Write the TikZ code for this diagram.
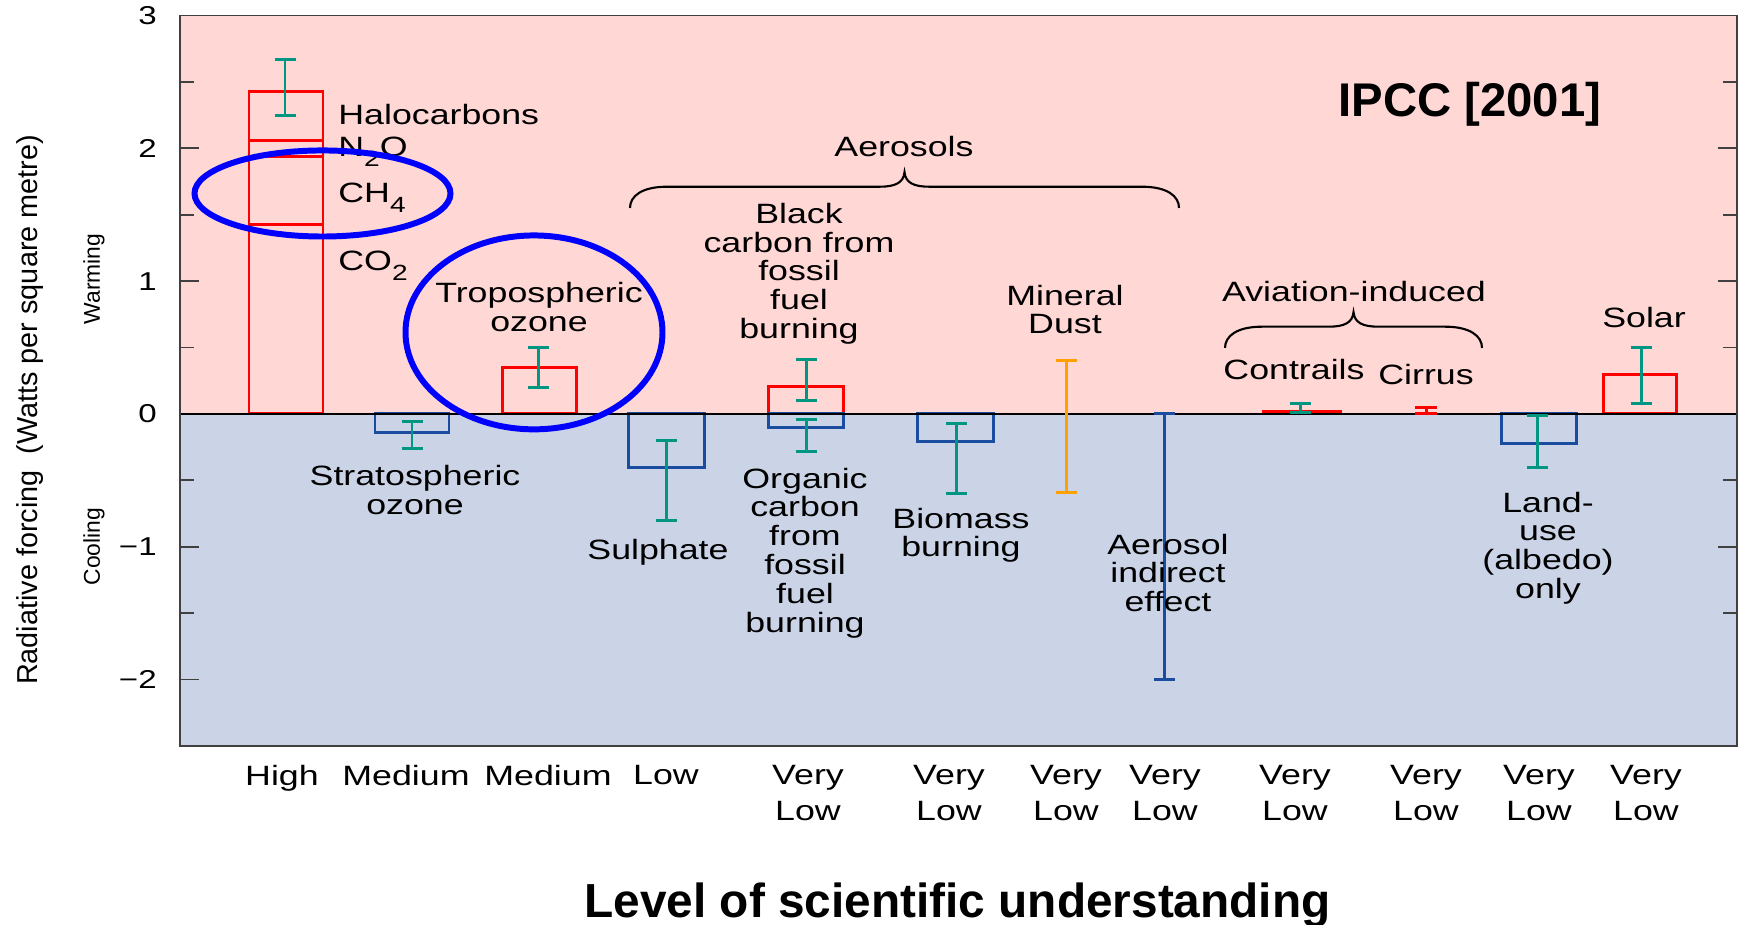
\documentclass[tikz,border=0pt]{standalone}
\usepackage{fontspec}
\setmainfont{Liberation Sans}
\newfontfamily\plotfont[FakeStretch=1.28]{Liberation Sans}

\definecolor{warmbg}{RGB}{255,215,213}
\definecolor{coolbg}{RGB}{203,211,230}
\definecolor{barred}{RGB}{255,0,0}
\definecolor{barblue}{RGB}{26,77,160}
\definecolor{errteal}{RGB}{0,150,130}
\definecolor{dustorange}{RGB}{255,160,0}
\definecolor{ringblue}{RGB}{0,0,255}

% lowered subscript as in the chart labels
\newcommand{\lowsub}[1]{\raisebox{-0.35em}{\fontsize{12.5}{12.5}\plotfont #1}}
% curly brace: left x, right x, base y
\newcommand{\curlybrace}[3]{%
  \draw[bracestyle] (#1,#3) .. controls (#1,#3+0.09) and (#1+1.2,#3+0.16) .. (#1+3.7,#3+0.16)
    -- ({(#1+#2)/2-2.5},#3+0.16) .. controls ({(#1+#2)/2-0.9},#3+0.16) and ({(#1+#2)/2-0.1},#3+0.19) .. ({(#1+#2)/2},#3+0.27)
    .. controls ({(#1+#2)/2+0.1},#3+0.19) and ({(#1+#2)/2+0.9},#3+0.16) .. ({(#1+#2)/2+2.5},#3+0.16)
    -- (#2-3.7,#3+0.16) .. controls (#2-1.2,#3+0.16) and (#2,#3+0.09) .. (#2,#3);}

\begin{document}
\begin{tikzpicture}[x=0.2cm,y=2.656cm,
  lab/.style={font=\fontsize{15.9}{16.44}\plotfont,inner sep=0pt,align=center},
  levlab/.style={font=\fontsize{15.9}{20.4}\plotfont,inner sep=0pt,align=center,anchor=north},
  ticklab/.style={font=\fontsize{14.7}{16}\plotfont,inner sep=0pt,anchor=east},
  sidelab/.style={font=\fontsize{13}{15}\selectfont,rotate=90,inner sep=0pt},
  warmbar/.style={draw=barred,line width=1.7pt},
  coolbar/.style={draw=barblue,line width=1.7pt},
  errbar/.style={errteal,line width=1.7pt},
  frame/.style={draw=black!75,line width=1pt},
  tickline/.style={black!75,line width=1pt},
  zeroline/.style={black,line width=0.9pt},
  bracestyle/.style={black,line width=1.2pt},
  ring/.style={ringblue,line width=3.4pt}]
\useasboundingbox (0,-3.848) rectangle (174,3.117);
% warming and cooling panels
\fill[warmbg] (18,0) rectangle (173.7,3);
\fill[coolbg] (18,-2.5) rectangle (173.7,0);
% greenhouse gases stacked
\draw[warmbar] (24.9,0) rectangle (32.3,1.43);
\draw[warmbar] (24.9,1.43) rectangle (32.3,1.94);
\draw[warmbar] (24.9,1.94) rectangle (32.3,2.06);
\draw[warmbar] (24.9,2.06) rectangle (32.3,2.43);
\foreach \xa/\xb/\v in {50.2/57.6/0.35,76.8/84.3/0.21,126.3/134.0/0.02,160.3/167.6/0.3}
  \draw[warmbar] (\xa,0) rectangle (\xb,\v);
\foreach \xa/\xb/\v in {37.5/44.9/-0.143,62.8/70.4/-0.4,76.8/84.3/-0.1,91.7/99.3/-0.21,150.1/157.6/-0.22}
  \draw[coolbar] (\xa,0) rectangle (\xb,\v);
\draw[zeroline] (18,0) -- (173.7,0);
% uncertainty ranges
\foreach \x/\lo/\hi in {28.5/2.25/2.67,41.2/-0.26/-0.06,53.8/0.2/0.5,66.6/-0.8/-0.2,80.6/0.1/0.41,
  80.6/-0.285/-0.045,95.6/-0.6/-0.075,130.0/0.01/0.075,153.7/-0.4/-0.01,164.1/0.08/0.5}
  \draw[errbar] (\x,\lo) -- (\x,\hi) (\x-1.05,\lo) -- ++(2.1,0) (\x-1.05,\hi) -- ++(2.1,0);
\draw[errbar,dustorange] (106.6,-0.59) -- (106.6,0.4) (105.55,-0.59) -- ++(2.1,0) (105.55,0.4) -- ++(2.1,0);
\draw[errbar,barblue] (116.4,-2) -- (116.4,0) (115.35,-2) -- ++(2.1,0) (115.35,0) -- ++(2.1,0);
\draw[errbar,barred] (142.6,0.005) -- (142.6,0.045) (141.5,0.005) -- ++(2.2,0) (141.5,0.045) -- ++(2.2,0);
% frame and ticks
\draw[frame] (18,-2.5) rectangle (173.7,3);
\foreach \y in {-2,-1,1,2} \draw[tickline] (18,\y) -- ++(1.9,0);
\foreach \y in {-1.5,-0.5,0.5,1.5,2.5} \draw[tickline] (18,\y) -- ++(1.4,0);
\foreach \y in {-1,1,2} \draw[tickline] (173.7,\y) -- ++(-1.9,0);
\foreach \y in {-1.5,-0.5,0.5,1.5,2.5} \draw[tickline] (173.7,\y) -- ++(-1.4,0);
\foreach \y/\t [count=\i] in {3/3,2/2,1/1,0/0,-1/−1,-2/−2}
  \node[ticklab] (ytick\i) at (15.7,\y) {\t};
% axis titles
\node[rotate=90,inner sep=0pt,font=\fontsize{16.4}{18}\selectfont] (ytitle) at (3.0,0.03)
  {Radiative forcing~~(Watts per square metre)};
\node[sidelab] (warm) at (9.4,1.017) {Warming};
\node[sidelab] (cool) at (9.4,-0.998) {Cooling};
\node[anchor=base,inner sep=0pt,font=\fontsize{27.2}{30}\bfseries] (level) at (95.75,-3.795)
  {Level of scientific understanding};
\node[anchor=base,inner sep=0pt,font=\fontsize{26.9}{30}\bfseries] (ipcc) at (147.0,2.236) {IPCC [2001]};
% forcing agents
\node[lab,anchor=base west] (halo) at (33.8,2.176) {Halocarbons};
\node[lab,anchor=base west] (n2o) at (33.8,1.935) {N\lowsub{2}O};
\node[lab,anchor=base west] (ch4) at (33.8,1.589) {CH\lowsub{4}};
\node[lab,anchor=base west] (co2) at (33.8,1.077) {CO\lowsub{2}};
\node[lab,anchor=north] (strat) at (41.5,-0.381) {Stratospheric\\ozone};
\node[lab,anchor=north] (trop) at (53.9,0.997) {Tropospheric\\ozone};
\node[lab,anchor=base] (sulph) at (65.8,-1.099) {Sulphate};
\node[lab,anchor=north] (black) at (79.9,1.592) {Black\\carbon from\\fossil\\fuel\\burning};
\node[lab,anchor=north] (organic) at (80.5,-0.403) {Organic\\carbon\\from\\fossil\\fuel\\burning};
\node[lab,anchor=north] (biomass) at (96.1,-0.704) {Biomass\\burning};
\node[lab,anchor=north] (dust) at (106.5,0.975) {Mineral\\Dust};
\node[lab,anchor=north] (indirect) at (116.8,-0.9) {Aerosol\\indirect\\effect};
\node[lab,anchor=base] (aerosols) at (90.4,1.935) {Aerosols};
\node[lab,anchor=base] (aviation) at (135.4,0.843) {Aviation-induced};
\node[lab,anchor=base] (contrails) at (129.4,0.256) {Contrails};
\node[lab,anchor=base] (cirrus) at (142.6,0.218) {Cirrus};
\node[lab,anchor=north] (landuse) at (154.8,-0.584) {Land-\\use\\(albedo)\\only};
\node[lab,anchor=base] (solar) at (164.4,0.648) {Solar};
\curlybrace{63}{117.9}{1.551}
\curlybrace{122.5}{148.2}{0.497}
% level of understanding
\foreach \x/\t [count=\i] in {28.2/High,40.6/Medium,54.8/Medium,66.6/Low,80.8/{Very\\Low},94.9/{Very\\Low},
  106.6/{Very\\Low},116.5/{Very\\Low},129.5/{Very\\Low},142.6/{Very\\Low},153.9/{Very\\Low},164.6/{Very\\Low}}
  \node[levlab] (lev\i) at (\x,-2.643) {\t};
% highlight rings
\draw[ring] (32.25,1.66) ellipse [x radius=12.8,y radius=0.324];
\draw[ring] (53.4,0.614) ellipse [x radius=12.85,y radius=0.73];
\end{tikzpicture}
\end{document}
